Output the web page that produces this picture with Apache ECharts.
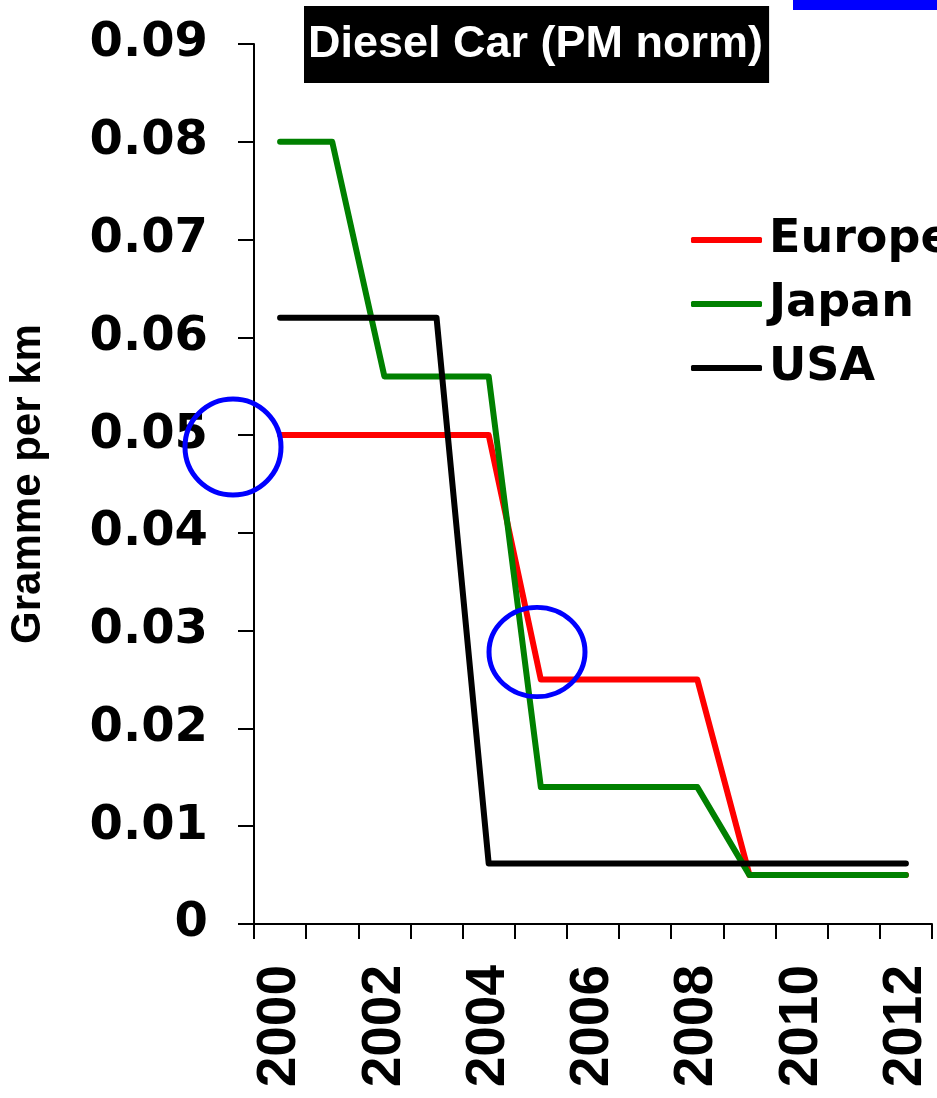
<!DOCTYPE html>
<html>
<head>
<meta charset="utf-8">
<script src="https://cdn.jsdelivr.net/npm/echarts@6/dist/echarts.min.js"></script>
<style>
html,body{margin:0;padding:0;background:#fff;}
#chart{width:937px;height:1098px;}
</style>
</head>
<body>
<div id="chart"></div>
<script>
const years = ['2000','2001','2002','2003','2004','2005','2006','2007','2008','2009','2010','2011','2012'];
const europe = [0.05,0.05,0.05,0.05,0.05,0.025,0.025,0.025,0.025,0.005,0.005,0.005,0.005];
const japan  = [0.08,0.08,0.056,0.056,0.056,0.014,0.014,0.014,0.014,0.005,0.005,0.005,0.005];
const usa    = [0.062,0.062,0.062,0.062,0.0062,0.0062,0.0062,0.0062,0.0062,0.0062,0.0062,0.0062,0.0062];
const seriesNames = ['Europe','Japan','USA'];
const titleText = 'Diesel Car (PM norm)';
const yAxisName = 'Gramme per km';

const chart = echarts.init(document.getElementById('chart'), null, {renderer:'canvas'});
const lineW = 6;
function mk(name, data, color){
  return {
    name, type:'line', data, symbol:'none',
    lineStyle:{color, width:lineW, cap:'round', join:'round'},
    itemStyle:{color},
    emphasis:{disabled:true}
  };
}
chart.setOption({
  animation:false,
  backgroundColor:'#ffffff',
  title:{
    text:titleText,
    left:304, top:6,
    backgroundColor:'#000000',
    padding:[16,6,16,4],
    textStyle:{color:'#ffffff', fontFamily:'Liberation Sans', fontWeight:'bold', fontSize:45}
  },
  legend:{
    orient:'vertical',
    left:686, top:212,
    itemWidth:71, itemHeight:6, itemGap:18,
    icon:'roundRect',
    data:seriesNames,
    textStyle:{color:'#000', fontFamily:'DejaVu Sans', fontWeight:'bold', fontSize:46, padding:[0,0,0,2]}
  },
  grid:{left:254, right:5, top:44, bottom:174, containLabel:false, outerBoundsMode:'none'},
  xAxis:{
    type:'category',
    data:years,
    boundaryGap:true,
    axisLine:{lineStyle:{color:'#000', width:2}},
    axisTick:{show:true, interval:0, length:15, lineStyle:{color:'#000', width:2}},
    axisLabel:{interval:1, rotate:90, margin:41, color:'#000', fontFamily:'Liberation Sans', fontWeight:'bold', fontSize:55},
    splitLine:{show:false}
  },
  yAxis:{
    type:'value',
    min:0, max:0.09, interval:0.01,
    name:yAxisName,
    nameLocation:'middle',
    nameRotate:90,
    nameGap:205,
    nameTextStyle:{color:'#000', fontFamily:'Liberation Sans', fontWeight:'bold', fontSize:42},
    axisLine:{show:true, lineStyle:{color:'#000', width:2}},
    axisTick:{show:true, inside:false, length:16, lineStyle:{color:'#000', width:2}},
    axisLabel:{margin:46, color:'#000', fontFamily:'DejaVu Sans', fontWeight:'bold', fontSize:48,
      formatter:v => v === 0 ? '0' : v.toFixed(2)},
    splitLine:{show:false}
  },
  series:[
    mk(seriesNames[0], europe, '#ff0000'),
    mk(seriesNames[1], japan, '#008000'),
    mk(seriesNames[2], usa, '#000000')
  ],
  graphic:[
    {type:'rect', left:793, top:0, shape:{width:144, height:10}, style:{fill:'#0000ff'}, z:100},
    {type:'circle', x:233, y:447, shape:{cx:0, cy:0, r:48}, style:{fill:'none', stroke:'#0000ff', lineWidth:5}, z:100},
    {type:'circle', x:537, y:652, scaleY:0.93, shape:{cx:0, cy:0, r:48}, style:{fill:'none', stroke:'#0000ff', lineWidth:5}, z:100}
  ]
});
</script>
</body>
</html>
